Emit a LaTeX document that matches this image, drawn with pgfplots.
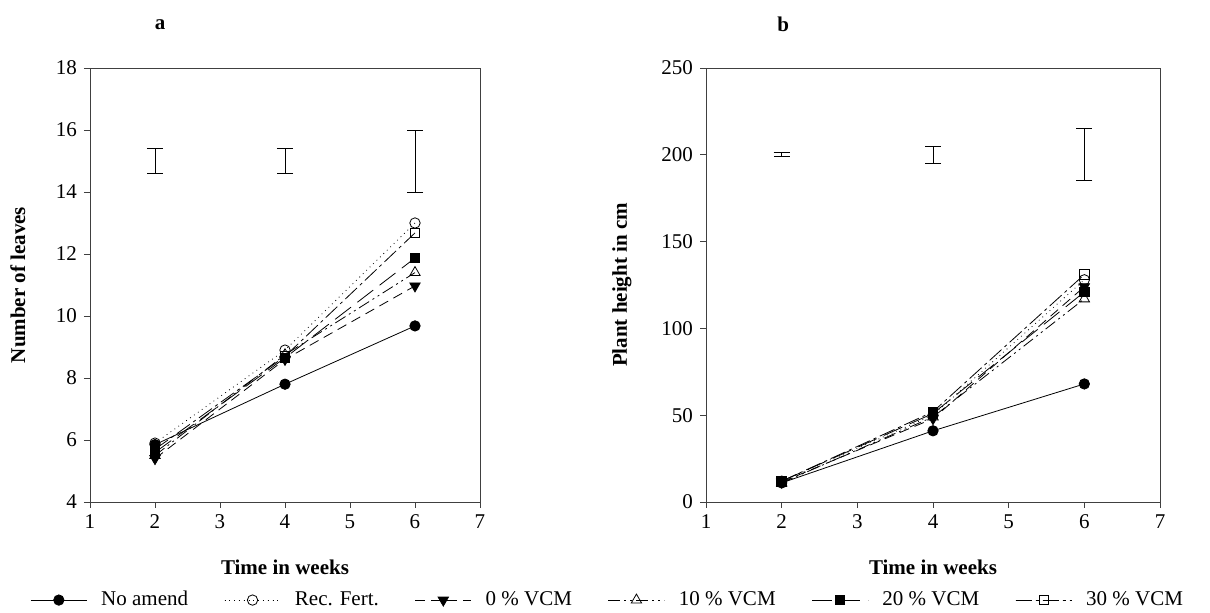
\documentclass[border=0pt]{standalone}
\usepackage{pgfplots}
\pgfplotsset{compat=1.18}
\usepackage{fontspec}
\setmainfont{Liberation Serif}
\begin{document}
\begin{tikzpicture}
\path (0pt,0pt) rectangle (605pt,-306.5pt);
\pgfplotsset{
  every axis/.append style={
    scale only axis,
    /pgf/number format/assume math mode=true,
    tick align=outside, tick pos=left,
    major tick length=3pt,
    axis line style={black!75},
    every tick/.style={black!75},
    tick label style={font=\fontsize{10.5}{12}\selectfont},
    label style={font=\bfseries\fontsize{10.5}{12}\selectfont},
    xlabel style={at={(axis description cs:0.5,-0.15)},anchor=center},
    ylabel style={at={(axis description cs:-0.185,0.5)},anchor=center,rotate=0},
    xmin=1,xmax=7,xtick={1,2,3,4,5,6,7},
    clip=false,
  },
  s0/.style={black,solid,mark=*,mark size=2.6pt,mark options={solid,fill=black}},
  s1/.style={black,dotted,mark=o,mark size=2.6pt,mark options={solid,fill=white}},
  s2/.style={black,dash pattern=on 5pt off 3pt,mark=triangle*,mark size=3pt,mark options={solid,fill=black,rotate=180}},
  s3/.style={black,dash pattern=on 6pt off 2pt on 1pt off 2pt on 1pt off 2pt,mark=triangle,mark size=3pt,mark options={solid,fill=white}},
  s4/.style={black,dash pattern=on 10pt off 4pt,mark=square*,mark size=2.4pt,mark options={solid,fill=black}},
  s5/.style={black,dash pattern=on 8pt off 2pt on 1.5pt off 2pt,mark=square,mark size=2.4pt,mark options={solid,fill=white}},
}
\begin{axis}[at={(45pt,-251pt)},anchor=south west,
  width=195pt,height=217pt,
  ymin=4,ymax=18,ytick={4,6,...,18},
  xlabel={Time in weeks},ylabel={Number of leaves},
  title={a},title style={at={(axis description cs:0.18,1.072)},anchor=center,font=\bfseries\fontsize{10.5}{12}\selectfont},
  legend columns=6,
  legend style={at={(axis description cs:1.33,-0.226)},anchor=center,draw=none,
    inner sep=0pt,
    font=\fontsize{10.5}{12}\selectfont,
    /tikz/every odd column/.append style={column sep=5pt},
    /tikz/every even column/.append style={column sep=16pt}},
  legend image code/.code={\draw[#1] (0pt,0pt) -- (28pt,0pt); \draw[#1,mark repeat=2,mark phase=2] plot coordinates {(0pt,0pt) (14pt,0pt) (28pt,0pt)};},
]
\addplot[s0] coordinates {(2,5.85) (4,7.8) (6,9.68)};
\addlegendentry{No amend}
\addplot[s1] coordinates {(2,5.9) (4,8.9) (6,13.0)};
\addlegendentry{Rec. Fert.}
\addplot[s2] coordinates {(2,5.4) (4,8.6) (6,10.97)};
\addlegendentry{0 \% VCM}
\addplot[s3] coordinates {(2,5.5) (4,8.75) (6,11.4)};
\addlegendentry{10 \% VCM}
\addplot[s4] coordinates {(2,5.6) (4,8.65) (6,11.87)};
\addlegendentry{20 \% VCM}
\addplot[s5] coordinates {(2,5.7) (4,8.7) (6,12.68)};
\addlegendentry{30 \% VCM}
\addplot[black,thin,no marks,draw=none,forget plot,
  error bars/.cd,y dir=both,y explicit,error bar style={black,thin,solid},error mark options={rotate=90,mark size=4pt,black}]
  coordinates {(2,15) +- (0,0.4) (4,15) +- (0,0.4) (6,15) +- (0,1.0)};
\end{axis}
\begin{axis}[at={(353pt,-251pt)},anchor=south west,
  width=227pt,height=217pt,
  ymin=0,ymax=250,ytick={0,50,...,250},
  xlabel={Time in weeks},ylabel={Plant height in cm},
  title={b},title style={at={(axis description cs:0.17,1.072)},anchor=center,font=\bfseries\fontsize{10.5}{12}\selectfont},
]
\addplot[s0] coordinates {(2,11) (4,41) (6,68)};
\addplot[s1] coordinates {(2,12) (4,50) (6,128)};
\addplot[s2] coordinates {(2,11.5) (4,48) (6,124)};
\addplot[s3] coordinates {(2,11) (4,49) (6,117)};
\addplot[s4] coordinates {(2,12) (4,51) (6,121)};
\addplot[s5] coordinates {(2,12) (4,52) (6,131)};
\addplot[black,thin,no marks,draw=none,forget plot,
  error bars/.cd,y dir=both,y explicit,error bar style={black,thin,solid},error mark options={rotate=90,mark size=4pt,black}]
  coordinates {(2,200) +- (0,1.2) (4,200) +- (0,5) (6,200) +- (0,15)};
\end{axis}
\end{tikzpicture}
\end{document}
